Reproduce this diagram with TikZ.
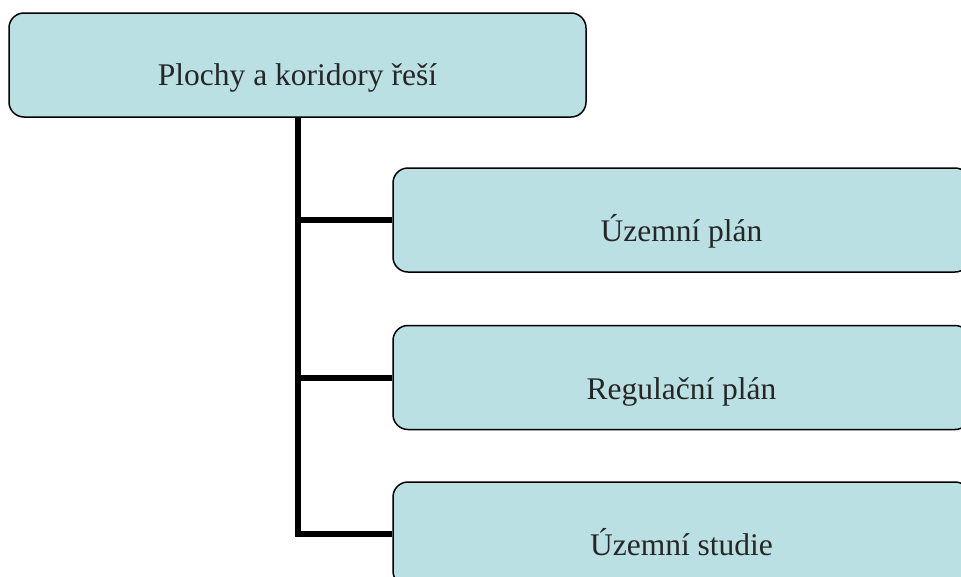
\documentclass[tikz,border=0pt]{standalone}
\usepackage{fontspec}
\setmainfont{Liberation Serif}
\usetikzlibrary{positioning}
\definecolor{boxfill}{RGB}{186,224,227}
\tikzset{
  box/.style={rectangle, rounded corners=15pt, draw=black, line width=1.5pt, fill=boxfill, minimum width=577pt, minimum height=104pt, inner sep=0pt},
  lbl/.style={inner sep=0pt, anchor=base, font=\fontsize{31.5}{36}\selectfont, text=black!85},
  link/.style={line width=6pt}
}

\begin{document}
\begin{tikzpicture}[x=1pt, y=-1pt]
  \clip (0,0) rectangle (961,576);
  \node [box] (top) at (297.5,65) {};
  \node [box] (uzemni) at (681.5,220) {};
  \node [box, below=52pt of uzemni] (regulacni) {};
  \node [box, below=51pt of regulacni] (studie) {};
  \node [lbl] (ttop) at ([yshift=-20.5pt]top.center) {Plochy a koridory řeší};
  \node [lbl] (tuzemni) at ([yshift=-21.5pt]uzemni.center) {Územní plán};
  \node [lbl] (tregulacni) at ([yshift=-21.5pt]regulacni.center) {Regulační plán};
  \node [lbl] (tstudie) at ([yshift=-21.5pt]studie.center) {Územní studie};
  \draw [link] (top.south) |- (studie.west);
  \draw [link]
  (top.south |- uzemni.west) -- (uzemni.west)
  (top.south |- regulacni.west) -- (regulacni.west);
\end{tikzpicture}
\end{document}
